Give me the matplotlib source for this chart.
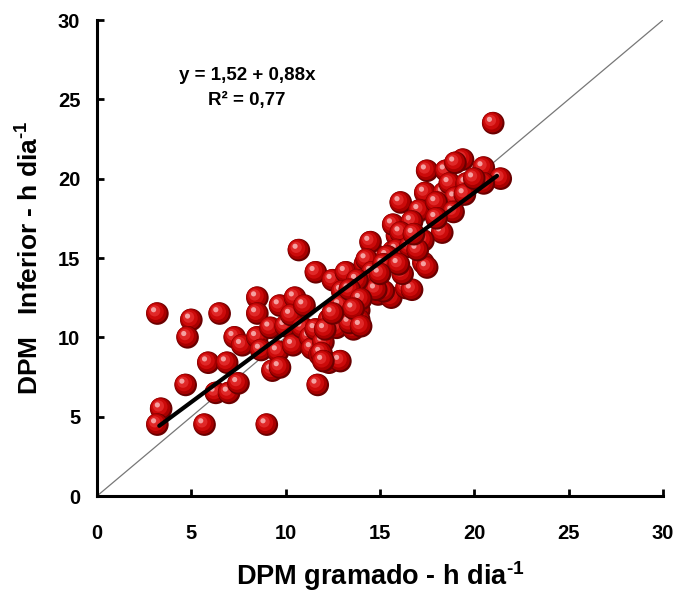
import matplotlib
matplotlib.use("Agg")
import matplotlib.pyplot as plt
import matplotlib.transforms as mtransforms
import numpy as np

# DPM gramado (x) vs DPM inferior (y)
gramado = [3.2, 3.4, 3.2, 5.0, 4.8, 4.7, 5.7, 5.9, 6.5, 6.3, 6.9, 7.0, 7.5, 7.3, 7.7,
           8.5, 8.5, 8.5, 9.0, 8.7, 9.2, 9.6, 9.7, 9.3, 9.7, 10.0, 10.4, 10.5, 10.3, 10.7,
           10.9, 11.0, 11.3, 11.4, 11.6, 11.8, 11.7, 12.3, 12.3, 12.0, 11.6, 12.5, 13.2, 14.2,
           14.9, 15.7, 14.0, 14.9, 15.6, 16.4, 13.0, 12.9, 13.9, 13.9, 12.7, 13.6, 12.9, 13.4,
           14.5, 15.9, 17.5, 18.5, 19.4, 20.5, 21.4, 21.0, 17.4, 18.4, 18.7, 19.6, 20.5, 16.1,
           17.1, 19.0, 18.0, 18.9, 15.7, 16.7, 18.3, 16.1, 17.3, 15.9, 16.6, 14.3, 15.4, 17.3,
           17.5, 16.7, 17.0, 14.6, 15.2, 15.2, 14.8, 13.8, 13.4, 14.0, 13.6, 14.0, 12.1, 11.9,
           12.0, 16.2, 16.0, 18.0, 19.5, 20.0, 16.8, 15.0, 12.5, 19.0]
inferior = [11.5, 5.5, 4.5, 11.1, 10.0, 7.0, 4.5, 8.4, 11.5, 6.5, 8.4, 6.5, 7.1, 10.0, 9.5,
            12.5, 11.5, 10.0, 4.5, 9.2, 10.6, 9.1, 12.0, 7.9, 8.1, 10.7, 9.5, 12.5, 11.4, 15.5,
            10.6, 12.0, 10.0, 9.3, 10.5, 8.9, 7.0, 8.4, 11.1, 9.7, 14.1, 13.6, 14.1, 14.6,
            15.1, 15.4, 13.1, 12.7, 12.5, 13.1, 12.9, 12.0, 11.7, 11.1, 10.6, 10.5, 8.5, 10.9,
            16.0, 16.4, 20.5, 20.5, 21.2, 20.7, 20.0, 23.5, 19.1, 19.1, 19.7, 19.7, 19.7, 18.5,
            18.0, 18.8, 18.5, 17.9, 17.1, 17.3, 16.6, 16.6, 16.1, 15.5, 15.7, 14.9, 15.1, 14.7,
            14.4, 13.0, 15.5, 14.1, 14.6, 12.9, 13.0, 13.6, 13.0, 12.4, 11.8, 10.7, 10.5, 9.0,
            8.5, 14.0, 14.6, 17.5, 19.0, 20.0, 16.5, 14.0, 11.5, 21.0]

# fitted line y = 1,52 + 0,88x over the data range
intercept = 1.52
slope = 0.88
fit_x = [3.3, 21.2]

ticks = [0, 5, 10, 15, 20, 25, 30]

plt.rcParams['font.family'] = ['Liberation Sans', 'DejaVu Sans']
plt.rcParams['font.weight'] = 'bold'
plt.rcParams['mathtext.fontset'] = 'custom'
plt.rcParams['mathtext.bf'] = 'Liberation Sans:bold'
plt.rcParams['mathtext.rm'] = 'Liberation Sans:bold'
plt.rcParams['mathtext.default'] = 'bf'

fig = plt.figure(figsize=(6.89, 5.93), dpi=100)
ax = fig.add_axes([97/689, 1 - 496/593, 566/689, 476/593])

# 1:1 line
ax.plot([0, 30], [0, 30], color='#777777', linewidth=0.9, zorder=1)

# shaded "sphere" markers, one point at a time so they overlap like balls
layers = [(265, '#6a0000', 0.0), (215, '#a80000', 0.9), (140, '#cc0a0a', 1.8),
          (65, '#e02828', 2.7), (14, '#f5a0a0', 3.8)]
for xv, yv in zip(gramado, inferior):
    for s, c, off in layers:
        tr = mtransforms.offset_copy(ax.transData, fig=fig, x=-off, y=off, units='dots')
        ax.scatter([xv], [yv], s=s, color=c, edgecolors='none', transform=tr,
                   zorder=2, clip_on=False)

fx = np.array(fit_x)
ax.plot(fx, intercept + slope * fx, color='black', linewidth=3, zorder=5,
        solid_capstyle='round')

ax.text(7.95, 26.5, 'y = 1,52 + 0,88x', ha='center', va='center', fontsize=13.5,
        fontweight='bold')
ax.text(7.95, 24.95, 'R² = 0,77', ha='center', va='center', fontsize=13.5,
        fontweight='bold')

ax.set_xlim(0, 30)
ax.set_ylim(0, 30)
ax.set_xticks(ticks)
ax.set_yticks(ticks)
ax.tick_params(axis='x', direction='in', length=5, width=2, pad=20, labelsize=14.5)
ax.tick_params(axis='y', direction='in', length=5, width=2, pad=12, labelsize=14.5)
for lab in ax.get_xticklabels() + ax.get_yticklabels():
    lab.set_fontweight('bold')
for pos in ['right', 'top']:
    ax.spines[pos].set_visible(False)
for pos in ['left', 'bottom']:
    ax.spines[pos].set_linewidth(2.2)

ax.set_xlabel(r'DPM gramado - h dia$^{\text{-1}}$', fontsize=19.5, fontweight='bold',
              labelpad=12)
ax.set_ylabel(r'DPM   Inferior - h dia$^{\text{-1}}$', fontsize=19, fontweight='bold',
              labelpad=10)

fig.savefig('out.png', dpi=100)
